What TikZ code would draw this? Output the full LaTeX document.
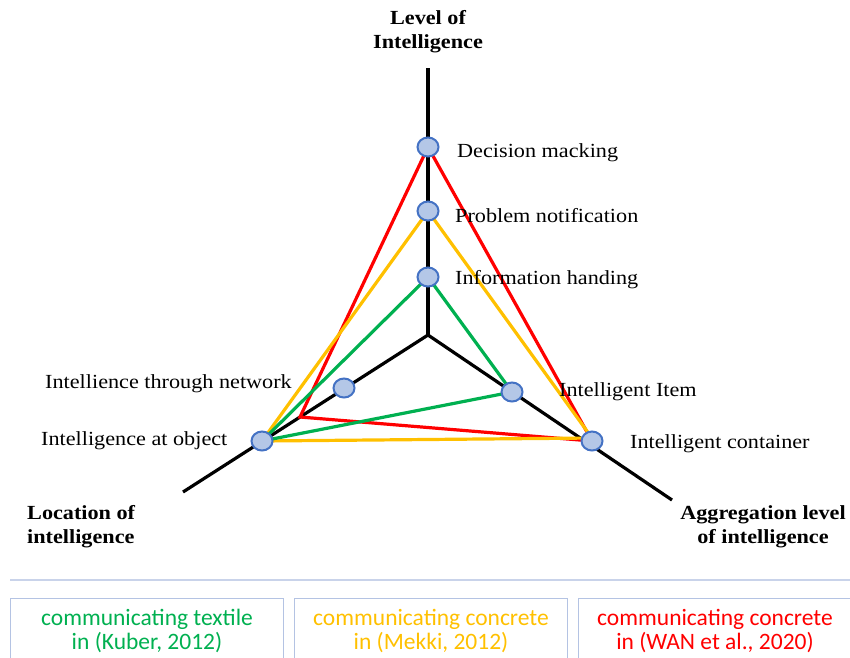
\documentclass[tikz,border=0pt]{standalone}
\usepackage{fontspec}
\usetikzlibrary{shapes.geometric}
\setmainfont{Liberation Serif}[FakeStretch=1.11]
\newfontfamily\legendfont{Carlito}
\definecolor{lgreen}{HTML}{00B050}
\definecolor{lyellow}{HTML}{FFC000}
\definecolor{lred}{HTML}{FF0000}
\definecolor{dotfill}{HTML}{B4C7E7}
\definecolor{dotedge}{HTML}{4472C4}
\definecolor{rulecol}{HTML}{C9D3EA}
\definecolor{boxcol}{HTML}{B4C3E3}
\begin{document}
\begin{tikzpicture}[x=1pt,y=-1pt,
  axis/.style={line width=3.2pt,black},
  poly/.style={line width=3.2pt,line join=miter},
  dot/.style={ellipse,draw=dotedge,fill=dotfill,line width=2pt,minimum width=21pt,minimum height=19pt,inner sep=0pt},
  lbl/.style={font=\fontsize{20}{22}\selectfont,inner sep=0pt},
  title/.style={font=\fontsize{20}{24}\selectfont\bfseries,align=center,inner sep=0pt},
  legbox/.style={draw=boxcol,line width=1pt,minimum width=273pt,minimum height=64pt,anchor=north west,inner sep=0pt},
  legtext/.style={font=\legendfont\fontsize{23.5}{24}\selectfont,align=center,inner sep=0pt}]
\useasboundingbox (0,0) rectangle (850,657);

% axes meeting at the centre
\coordinate (O) at (428,335);
\coordinate (topEnd) at (428,68);
\coordinate (leftEnd) at (183,492);
\coordinate (rightEnd) at (672,500);
\draw[axis] (O) -- (topEnd);
\draw[axis] (O) -- (leftEnd);
\draw[axis] (O) -- (rightEnd);

% positions of the markers on the axes
\coordinate (decision) at (428,147);
\coordinate (problem) at (428,211);
\coordinate (information) at (428,277);
\coordinate (network) at (344,388);
\coordinate (object) at (262,441);
\coordinate (item) at (512,392);
\coordinate (container) at (592,441);
\coordinate (redLeft) at (300,417);

% profiles of the three cases
\draw[poly,lred] (decision) -- (container) -- (redLeft) -- cycle;
\draw[poly,lyellow] (problem) -- (object) -- ([yshift=3pt]container) -- cycle;
\draw[poly,lgreen] (information) -- (item) -- (object) -- cycle;

% markers
\foreach \p in {decision,problem,information,network,object,item,container}
  \node[dot] (\p Dot) at (\p) {};

% marker labels
\node[lbl,anchor=west] (decisionLbl) at (457,153) {Decision macking};
\node[lbl,anchor=west] (problemLbl) at (455,216) {Problem notification};
\node[lbl,anchor=west] (informationLbl) at (455,280) {Information handing};
\node[lbl,anchor=east] (networkLbl) at (292,384) {Intellience through network};
\node[lbl,anchor=west] (objectLbl) at (41,441) {Intelligence at object};
\node[lbl,anchor=west] (itemLbl) at (559,392) {Intelligent Item};
\node[lbl,anchor=west] (containerLbl) at (630,444) {Intelligent container};

% axis titles
\node[title] (levelTitle) at (428,32) {Level of\\Intelligence};
\node[title,align=left,anchor=west] (locationTitle) at (27,527) {Location of\\intelligence};
\node[title] (aggregationTitle) at (763,527) {Aggregation level\\of intelligence};

% legend
\draw[rulecol,line width=1.5pt] (10,580) -- (850,580);
\node[legbox] (box1) at (10,598) {};
\node[legbox] (box2) at (294,598) {};
\node[legbox] (box3) at (578,598) {};
\node[legtext,text=lgreen] (leg1) at (box1.center) {communicating textile\\in (Kuber, 2012)};
\node[legtext,text=lyellow] (leg2) at (box2.center) {communicating concrete\\in (Mekki, 2012)};
\node[legtext,text=lred] (leg3) at (box3.center) {communicating concrete\\in (WAN et al., 2020)};
\end{tikzpicture}
\end{document}
